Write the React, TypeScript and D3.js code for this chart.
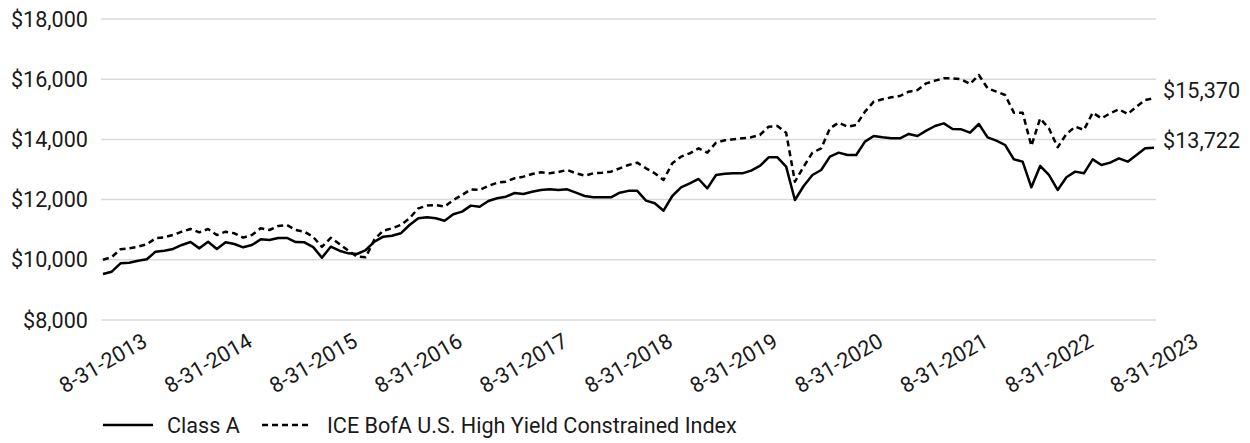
import React from "react";
import * as d3 from "d3";

const tickLabels = [
  "8-31-2013", "8-31-2014", "8-31-2015", "8-31-2016", "8-31-2017", "8-31-2018",
  "8-31-2019", "8-31-2020", "8-31-2021", "8-31-2022", "8-31-2023",
];

const yTicks = [8000, 10000, 12000, 14000, 16000, 18000];

// Monthly values, 8-31-2013 .. 8-31-2023 (121 points)
const classA = [
  9529, 9605, 9884, 9905, 9970, 10017, 10270, 10303, 10360, 10493, 10590, 10380,
  10600, 10360, 10580, 10525, 10415, 10490, 10680, 10658, 10725, 10725, 10590, 10580,
  10420, 10070, 10436, 10303, 10215, 10193, 10325, 10602, 10768, 10800, 10880, 11157,
  11378, 11413, 11378, 11300, 11513, 11600, 11800, 11765, 11954, 12044, 12097, 12220,
  12186, 12263, 12319, 12342, 12319, 12342, 12230, 12120, 12077, 12077, 12077, 12230,
  12290, 12290, 11966, 11877, 11632, 12120, 12408, 12541, 12685, 12375, 12818, 12862,
  12873, 12873, 12962, 13117, 13405, 13405, 13095, 11987, 12452, 12818, 12984, 13427,
  13560, 13482, 13482, 13925, 14113, 14069, 14036, 14036, 14180, 14113, 14291, 14445,
  14534, 14346, 14335, 14224, 14512, 14069, 13958, 13814, 13338, 13261, 12408, 13117,
  12818, 12320, 12740, 12929, 12873, 13338, 13150, 13228, 13372, 13261, 13482, 13704,
  13722,
];

const iceBofA = [
  10000, 10090, 10350, 10383, 10436, 10515, 10715, 10748, 10824, 10934, 11024, 10913,
  11024, 10824, 10934, 10880, 10735, 10824, 11047, 10990, 11124, 11157, 10990, 10934,
  10760, 10430, 10730, 10525, 10303, 10104, 10084, 10680, 10967, 11047, 11157, 11378,
  11710, 11800, 11821, 11765, 11987, 12153, 12340, 12320, 12452, 12562, 12596, 12708,
  12762, 12851, 12907, 12874, 12918, 12984, 12874, 12796, 12874, 12895, 12928, 13040,
  13150, 13227, 13040, 12874, 12652, 13206, 13427, 13538, 13704, 13560, 13891, 13970,
  14003, 14036, 14069, 14146, 14422, 14445, 14224, 12596, 13095, 13560, 13704, 14367,
  14555, 14422, 14479, 14922, 15253, 15332, 15398, 15442, 15586, 15641, 15863, 15952,
  16029, 16029, 15996, 15841, 16140, 15697, 15586, 15475, 14888, 14888, 13781, 14700,
  14368, 13737, 14180, 14423, 14313, 14888, 14700, 14866, 14999, 14844, 15088, 15310,
  15370,
];

const seriesNames = ["Class A", "ICE BofA U.S. High Yield Constrained Index"];
const endLabels = ["$13,722", "$15,370"];

const W = 1250;
const H = 443;
const FONT = "Roboto, 'Noto Sans', sans-serif";
const TEXT = "#1a1a1a";
const FS = 21.6;

export default function App() {
  const x = d3.scaleLinear().domain([0, classA.length - 1]).range([103, 1154]);
  const y = d3.scaleLinear().domain([8000, 18000]).range([320, 19]);
  const line = d3
    .line<number>()
    .x((_, i) => x(i))
    .y((d) => y(d));
  const fmt = d3.format("$,");

  return (
    <svg
      width={W}
      height={H}
      style={{ position: "absolute", left: 0, top: 0, display: "block", background: "#fff" }}
      fontFamily={FONT}
    >
      {yTicks.map((t) => (
        <g key={t}>
          <line x1={101} x2={1156} y1={y(t)} y2={y(t)} stroke="#d9d9d9" strokeWidth={1.5} />
          <text x={88} y={y(t)} dy="0.35em" textAnchor="end" fontSize={FS} fill={TEXT}>
            {fmt(t)}
          </text>
        </g>
      ))}
      {tickLabels.map((lab, k) => (
        <text
          key={lab}
          transform={`translate(${x(k * 12)},363) rotate(-30)`}
          textAnchor="middle"
          dy="0.35em"
          fontSize={FS}
          fill={TEXT}
        >
          {lab}
        </text>
      ))}
      <path d={line(iceBofA) || ""} fill="none" stroke="#000" strokeWidth={2.5} strokeDasharray="6,4" strokeLinejoin="round" />
      <path d={line(classA) || ""} fill="none" stroke="#000" strokeWidth={2.5} strokeLinejoin="round" />
      <text x={1163} y={y(classA[classA.length - 1])} fontSize={FS} fill={TEXT}>
        {endLabels[0]}
      </text>
      <text x={1163} y={y(iceBofA[iceBofA.length - 1])} fontSize={FS} fill={TEXT}>
        {endLabels[1]}
      </text>
      <g>
        <line x1={103} x2={153} y1={425} y2={425} stroke="#000" strokeWidth={2.5} />
        <text x={167} y={425} dy="0.35em" fontSize={FS} fill={TEXT}>
          {seriesNames[0]}
        </text>
        <line x1={262} x2={312} y1={425} y2={425} stroke="#000" strokeWidth={2.5} strokeDasharray="6,4" />
        <text x={327} y={425} dy="0.35em" fontSize={FS} fill={TEXT}>
          {seriesNames[1]}
        </text>
      </g>
    </svg>
  );
}
